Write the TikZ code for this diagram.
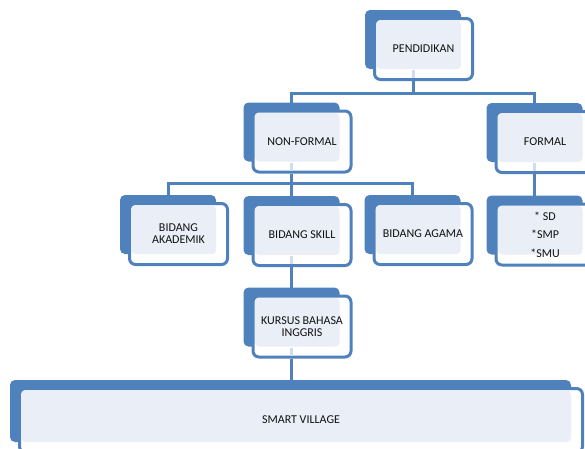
\documentclass[tikz,border=0pt]{standalone}
\usepackage{fontspec}
\setmainfont{Carlito}
\usetikzlibrary{calc}
\definecolor{tabblue}{HTML}{4F81BD}
\definecolor{tablight}{HTML}{E9EEF7}
\definecolor{stubc}{HTML}{D3DCEA}
\definecolor{textc}{HTML}{111111}
\pgfdeclarelayer{background}
\pgfsetlayers{background,main}
\newcommand\tabdecor[1]{%
  \begin{pgfonlayer}{background}
    \clip (0,0) rectangle (585,448);
    \fill[tabblue,rounded corners=5pt] ([xshift=-8pt,yshift=7pt]#1.north west) rectangle ([xshift=-13pt,yshift=12pt]#1.south east);
    \draw[tabblue,line width=3pt,fill=white,rounded corners=6pt] ([xshift=1.5pt,yshift=-1.5pt]#1.north west) rectangle ([xshift=-1.5pt,yshift=1.5pt]#1.south east);
    \fill[tablight,rounded corners=4pt] ([xshift=3.5pt,yshift=-3.5pt]#1.north west) rectangle ([xshift=-13pt,yshift=12pt]#1.south east);
  \end{pgfonlayer}}
\newcommand\tabstub[1]{%
  \begin{pgfonlayer}{background}
    \draw[stubc,line width=3pt] ([xshift=-10.5pt,yshift=11pt]#1.south) -- ([xshift=-10.5pt,yshift=3pt]#1.south);
  \end{pgfonlayer}}
\tikzset{
  bbox/.style={minimum width=101pt,minimum height=64pt,inner sep=0pt,outer sep=0pt,
    font=\fontsize{12}{12}\selectfont,align=center,text=textc},
  conn/.style={draw=tabblue,line width=3pt}
}
\begin{document}
\begin{tikzpicture}[x=1pt,y=-1pt]
\useasboundingbox (0,0) rectangle (585,448);
% nodes
\node[bbox] (pend) at (423.5,49) {PENDIDIKAN};
\node[bbox] (nonf) at (302,141.5) {NON-FORMAL};
\node[bbox] (form) at (545,142) {FORMAL};
\node[bbox] (akad) at (178.5,234) {BIDANG\\AKADEMIK};
\node[bbox] (skil) at (302,235) {BIDANG SKILL};
\node[bbox] (agam) at (423,234) {BIDANG AGAMA};
\node[bbox] (sd) at (545,234.5) {* SD\\[6.5pt]*SMP\\[6.5pt]*SMU};
\node[bbox] (kurs) at (302,326.5) {KURSUS BAHASA\\INGGRIS};
\node[bbox,minimum width=566pt,minimum height=67pt] (smart) at (301,420.5) {\raisebox{2pt}{SMART VILLAGE}};
% decorations
\foreach \n in {pend,nonf,form,akad,skil,agam,sd,kurs,smart} {\tabdecor{\n}}
\foreach \n in {pend,nonf,form,skil,kurs} {\tabstub{\n}}
% connector anchors
\coordinate (bus1) at (0,93);
\coordinate (bus2) at (0,183);
\coordinate (pendB) at ([xshift=-10.5pt]pend.south);
\coordinate (nonfB) at ([xshift=-10.5pt]nonf.south);
\coordinate (formB) at ([xshift=-10.5pt]form.south);
\coordinate (skilB) at ([xshift=-10.5pt]skil.south);
\coordinate (kursB) at ([xshift=-10.5pt]kurs.south);
\coordinate (nonfT) at ([xshift=-10.5pt,yshift=7pt]nonf.north);
\coordinate (formT) at ([xshift=-10.5pt,yshift=7pt]form.north);
\coordinate (akadT) at ([xshift=-10.5pt,yshift=7pt]akad.north);
\coordinate (skilT) at ([xshift=-10.5pt,yshift=7pt]skil.north);
\coordinate (agamT) at ([xshift=-10.5pt,yshift=7pt]agam.north);
\coordinate (sdT) at ([xshift=-10.5pt,yshift=7pt]sd.north);
\coordinate (kursT) at ([xshift=-10.5pt,yshift=7pt]kurs.north);
\coordinate (smartT) at ([yshift=7pt]smart.north);
% connectors
\draw[conn] (pendB) -- (pendB |- bus1) -| (nonfT);
\draw[conn] (pendB |- bus1) -| (formT);
\draw[conn] (nonfB) -- (nonfB |- bus2) -| (akadT);
\draw[conn] (nonfB |- bus2) -| (agamT);
\draw[conn] (nonfB |- bus2) -- (skilT);
\draw[conn] (formB) -- (sdT);
\draw[conn] (skilB) -- (kursT);
\draw[conn] (kursB) -- (kursB |- smartT);
\end{tikzpicture}
\end{document}
